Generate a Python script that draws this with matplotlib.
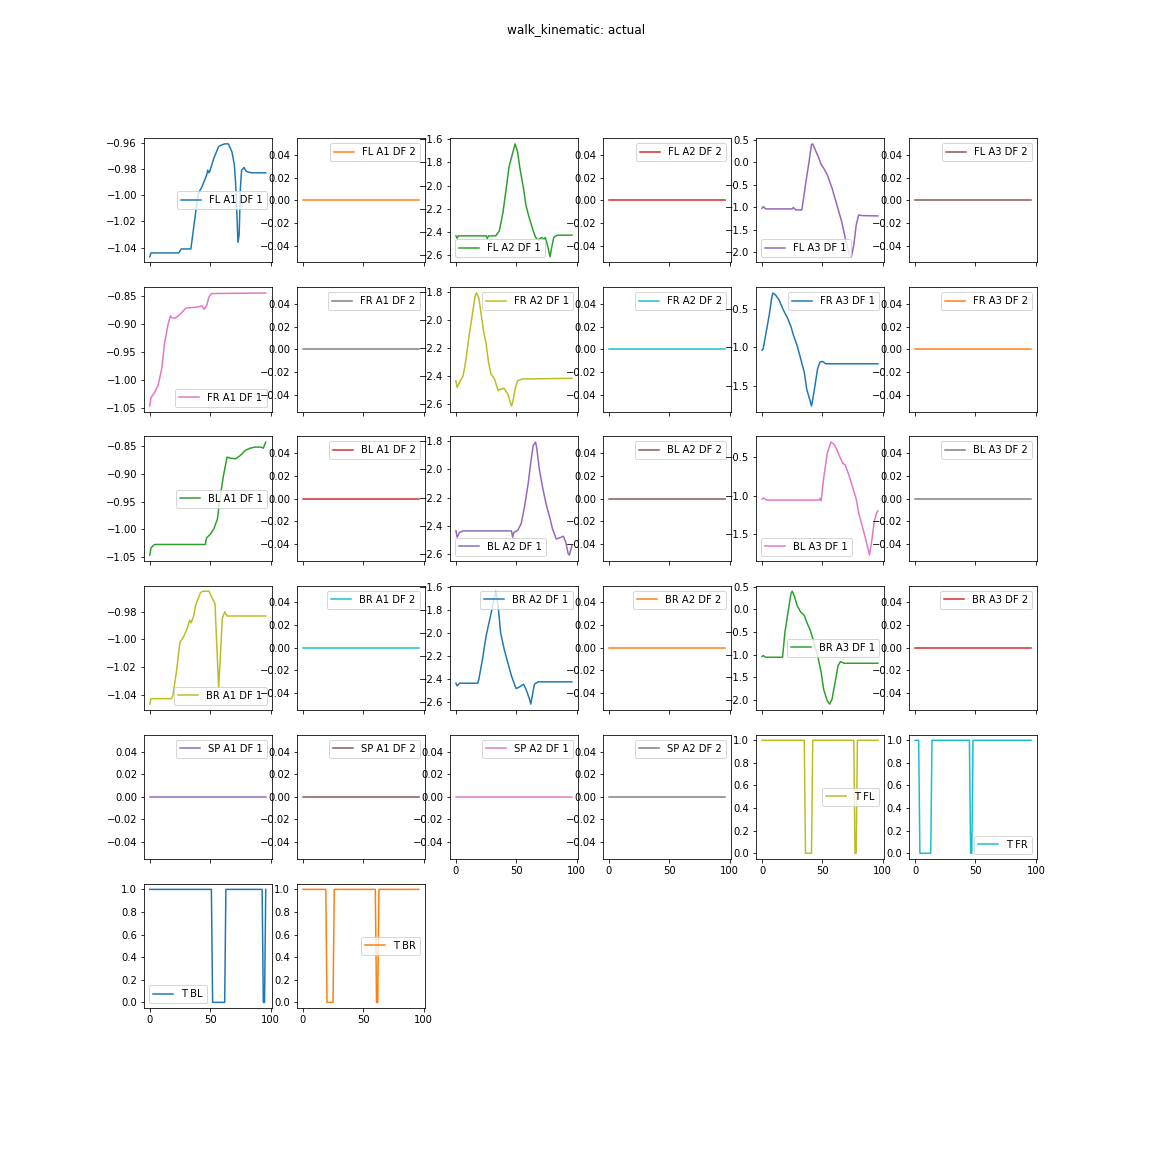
#!/usr/bin/env python3
"""
Plot the walk_kinematic actual joint positions and touch flags, one subplot per column
"""

import matplotlib
matplotlib.use("Agg")
from matplotlib import pyplot as plt

# sample index shared by the flat series (0..96)
idx = list(range(97))
flat = [0.0] * 97

# joint angles, read as (index, value) vertices
fl_a1_x = [0, 1, 24, 26, 34, 37, 40, 43, 47, 48, 49, 50, 53, 57, 59, 62, 65, 68, 70, 71, 72, 73, 74, 75, 76, 78, 80, 84, 96]
fl_a1_y = [-1.047, -1.044, -1.044, -1.041, -1.041, -1.020, -0.999, -0.994, -0.985, -0.981, -0.983, -0.981, -0.972,
           -0.963, -0.962, -0.961, -0.961, -0.967, -0.977, -0.990, -1.012, -1.036, -1.030, -0.995, -0.981, -0.979,
           -0.982, -0.983, -0.983]
fl_a2_x = [0, 1, 2, 25, 26, 27, 33, 36, 39, 42, 44, 47, 49, 51, 53, 56, 58, 61, 64, 66, 68, 71, 73, 74, 76, 78, 79, 81, 84, 96]
fl_a2_y = [-2.432, -2.452, -2.432, -2.432, -2.455, -2.432, -2.432, -2.388, -2.229, -1.997, -1.838, -1.722, -1.643,
           -1.707, -1.852, -2.026, -2.171, -2.287, -2.388, -2.446, -2.467, -2.446, -2.461, -2.446, -2.519, -2.612,
           -2.548, -2.446, -2.426, -2.426]
fl_a3_x = [0, 1, 3, 25, 26, 28, 33, 36, 39, 41, 42, 44, 47, 49, 51, 54, 58, 62, 66, 69, 72, 74, 76, 78, 80, 83, 96]
fl_a3_y = [-1.025, -0.988, -1.040, -1.040, -1.010, -1.063, -1.063, -0.504, 0.016, 0.388, 0.403, 0.277, 0.091, -0.058,
           -0.132, -0.281, -0.579, -0.951, -1.323, -1.695, -2.030, -2.104, -1.844, -1.397, -1.174, -1.189, -1.196]

fr_a1_x = [0, 1, 4, 7, 10, 12, 15, 17, 18, 21, 23, 26, 30, 35, 40, 43, 45, 47, 49, 51, 96]
fr_a1_y = [-1.047, -1.032, -1.023, -1.009, -0.979, -0.938, -0.902, -0.886, -0.889, -0.890, -0.887, -0.881, -0.872,
           -0.871, -0.870, -0.868, -0.874, -0.868, -0.852, -0.846, -0.845]
fr_a2_x = [0, 1, 3, 6, 8, 11, 14, 16, 17, 19, 21, 23, 25, 27, 29, 32, 35, 36, 40, 43, 46, 47, 49, 51, 55, 96]
fr_a2_y = [-2.432, -2.480, -2.444, -2.396, -2.300, -2.108, -1.939, -1.824, -1.807, -1.843, -1.963, -2.083, -2.168,
           -2.300, -2.384, -2.420, -2.504, -2.495, -2.487, -2.528, -2.612, -2.588, -2.492, -2.432, -2.420, -2.415]
fr_a3_x = [0, 1, 3, 6, 8, 9, 11, 14, 17, 19, 21, 24, 26, 29, 32, 35, 37, 41, 43, 46, 48, 50, 53, 96]
fr_a3_y = [-1.037, -1.015, -0.841, -0.579, -0.360, -0.295, -0.317, -0.382, -0.491, -0.557, -0.614, -0.731, -0.841,
           -0.972, -1.146, -1.321, -1.539, -1.758, -1.583, -1.277, -1.190, -1.181, -1.212, -1.212]

bl_a1_x = [0, 1, 4, 46, 47, 50, 53, 56, 58, 61, 64, 67, 71, 75, 79, 83, 87, 92, 94, 96]
bl_a1_y = [-1.046, -1.033, -1.027, -1.027, -1.015, -1.009, -0.999, -0.981, -0.945, -0.903, -0.870, -0.872, -0.873,
           -0.867, -0.858, -0.854, -0.852, -0.852, -0.854, -0.843]
bl_a2_x = [0, 1, 3, 6, 46, 47, 48, 51, 54, 57, 60, 62, 64, 66, 67, 69, 72, 75, 78, 80, 83, 85, 89, 91, 93, 94, 96]
bl_a2_y = [-2.436, -2.483, -2.448, -2.438, -2.438, -2.483, -2.448, -2.436, -2.388, -2.257, -2.090, -1.948, -1.829,
           -1.805, -1.852, -1.995, -2.138, -2.257, -2.352, -2.424, -2.495, -2.490, -2.476, -2.519, -2.602, -2.610,
           -2.543]
bl_a3_x = [0, 1, 4, 47, 48, 49, 51, 54, 57, 60, 62, 65, 67, 69, 72, 75, 78, 80, 83, 86, 89, 91, 93, 95, 96]
bl_a3_y = [-1.044, -1.031, -1.057, -1.057, -1.035, -1.066, -0.781, -0.452, -0.307, -0.342, -0.408, -0.518, -0.583,
           -0.605, -0.737, -0.890, -1.044, -1.219, -1.395, -1.570, -1.768, -1.570, -1.329, -1.219, -1.197]

br_a1_x = [0, 1, 18, 19, 22, 24, 25, 28, 31, 33, 34, 36, 38, 42, 44, 47, 49, 51, 54, 55, 57, 58, 60, 62, 64, 96]
br_a1_y = [-1.047, -1.043, -1.043, -1.041, -1.024, -1.009, -1.002, -0.998, -0.992, -0.986, -0.988, -0.984, -0.975,
           -0.966, -0.965, -0.965, -0.965, -0.969, -0.974, -0.995, -1.035, -1.019, -0.985, -0.980, -0.983, -0.983]
br_a2_x = [0, 1, 3, 18, 19, 22, 25, 28, 31, 33, 35, 37, 40, 43, 46, 49, 50, 53, 56, 58, 61, 62, 63, 65, 68, 96]
br_a2_y = [-2.440, -2.463, -2.440, -2.440, -2.405, -2.231, -2.027, -1.882, -1.737, -1.635, -1.766, -1.998, -2.144,
           -2.260, -2.376, -2.463, -2.487, -2.470, -2.449, -2.492, -2.580, -2.623, -2.565, -2.449, -2.428, -2.428]
br_a3_x = [0, 1, 3, 17, 19, 22, 24, 25, 27, 29, 32, 35, 37, 40, 43, 46, 49, 51, 54, 56, 58, 61, 63, 65, 68, 96]
br_a3_y = [-1.043, -1.021, -1.058, -1.058, -0.501, 0.018, 0.352, 0.404, 0.277, 0.092, -0.056, -0.131, -0.279,
           -0.464, -0.724, -1.021, -1.392, -1.763, -2.022, -2.096, -1.985, -1.540, -1.243, -1.154, -1.191, -1.191]

# touch flags
t_fl_x = [0, 35, 36, 41, 42, 76, 77, 78, 79, 96]
t_fl_y = [1, 1, 0, 0, 1, 1, 0, 0, 1, 1]
t_fr_x = [0, 3, 4, 13, 14, 45, 46, 47, 48, 96]
t_fr_y = [1, 1, 0, 0, 1, 1, 0, 0, 1, 1]
t_bl_x = [0, 51, 52, 62, 63, 93, 94, 95, 96]
t_bl_y = [1, 1, 0, 0, 1, 1, 0, 0, 1]
t_br_x = [0, 19, 20, 25, 26, 60, 61, 62, 63, 96]
t_br_y = [1, 1, 0, 0, 1, 1, 0, 0, 1, 1]

columns = [
    ("FL A1 DF 1", fl_a1_x, fl_a1_y), ("FL A1 DF 2", idx, flat),
    ("FL A2 DF 1", fl_a2_x, fl_a2_y), ("FL A2 DF 2", idx, flat),
    ("FL A3 DF 1", fl_a3_x, fl_a3_y), ("FL A3 DF 2", idx, flat),
    ("FR A1 DF 1", fr_a1_x, fr_a1_y), ("FR A1 DF 2", idx, flat),
    ("FR A2 DF 1", fr_a2_x, fr_a2_y), ("FR A2 DF 2", idx, flat),
    ("FR A3 DF 1", fr_a3_x, fr_a3_y), ("FR A3 DF 2", idx, flat),
    ("BL A1 DF 1", bl_a1_x, bl_a1_y), ("BL A1 DF 2", idx, flat),
    ("BL A2 DF 1", bl_a2_x, bl_a2_y), ("BL A2 DF 2", idx, flat),
    ("BL A3 DF 1", bl_a3_x, bl_a3_y), ("BL A3 DF 2", idx, flat),
    ("BR A1 DF 1", br_a1_x, br_a1_y), ("BR A1 DF 2", idx, flat),
    ("BR A2 DF 1", br_a2_x, br_a2_y), ("BR A2 DF 2", idx, flat),
    ("BR A3 DF 1", br_a3_x, br_a3_y), ("BR A3 DF 2", idx, flat),
    ("SP A1 DF 1", idx, flat), ("SP A1 DF 2", idx, flat),
    ("SP A2 DF 1", idx, flat), ("SP A2 DF 2", idx, flat),
    ("T FL", t_fl_x, t_fl_y), ("T FR", t_fr_x, t_fr_y),
    ("T BL", t_bl_x, t_bl_y), ("T BR", t_br_x, t_br_y),
]

# legend placement per subplot (what 'best' picked in the original)
legend_locs = [
    "center right", "upper right", "lower left", "upper right", "lower left", "upper right",
    "lower right", "upper right", "upper right", "upper right", "upper right", "upper right",
    "center right", "upper right", "lower left", "upper right", "lower left", "upper right",
    "lower right", "upper right", "upper right", "upper right", "center right", "upper right",
    "upper right", "upper right", "upper right", "upper right", "center right", "lower right",
    "lower left", "center right",
]


def main():
    nrows, ncols = 6, 6
    fig, axes = plt.subplots(nrows, ncols, sharex=True, figsize=(16, 16), dpi=72)
    fig.subplots_adjust(left=0.125, right=0.9, top=0.88, bottom=0.125, wspace=0.2, hspace=0.2)
    fig.suptitle("walk_kinematic: actual")

    flat_axes = axes.ravel()
    for i, (name, xs, ys) in enumerate(columns):
        ax = flat_axes[i]
        ax.plot(xs, ys, color="C%d" % (i % 10), label=name)
        ax.legend(loc=legend_locs[i])

    for ax in flat_axes[len(columns):]:
        ax.set_visible(False)

    # last visible axis of each column gets the x tick labels
    for c in range(ncols):
        for r in range(nrows - 1, -1, -1):
            if r * ncols + c < len(columns):
                axes[r, c].xaxis.set_tick_params(labelbottom=True)
                break

    fig.savefig("out.png")


if __name__ == "__main__":
    main()
